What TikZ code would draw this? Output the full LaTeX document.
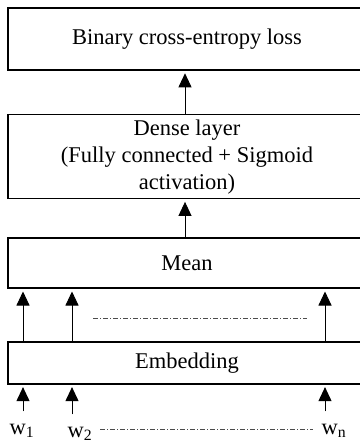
\documentclass[tikz,border=0pt]{standalone}
\usepackage{fontspec}
\setmainfont{Liberation Serif}
\usetikzlibrary{positioning,arrows.meta}

\tikzset{
  layer/.style={draw, line width=1.6pt, minimum width=358pt, align=center, inner sep=0pt},
  up/.style={-{Triangle[length=14pt,width=13pt]}, line width=0.9pt, shorten >=2.5pt},
  dotline/.style={dash pattern=on 5pt off 2pt on 1pt off 2pt, line width=0.6pt, black!70}
}

\begin{document}
\begin{tikzpicture}[x=1pt, y=-1pt, font=\fontsize{22.5}{27}\selectfont]
    \useasboundingbox (0,0) rectangle (359,443);

    \node[layer, minimum height=62pt] (loss) at (187,39) {Binary cross-entropy loss};
    \node[layer, minimum height=84pt, below = 43pt of loss] (dense) {Dense layer\\(Fully connected + Sigmoid\\activation)};
    \node[layer, minimum height=50pt, below = 38pt of dense] (mean) {Mean};
    \node[layer, minimum height=42pt, below = 52pt of mean] (emb) {Embedding};

    \node[anchor=base, inner sep=0pt] (w1) at (22,434) {w\textsubscript{1}};
    \node[anchor=base, inner sep=0pt] (w2) at (80,437) {w\textsubscript{2}};
    \node[anchor=base, inner sep=0pt] (wn) at (334,434) {w\textsubscript{n}};

    \coordinate (c0) at (185,0);
    \coordinate (c1) at (23,0);
    \coordinate (c2) at (72,0);
    \coordinate (cn) at (325,0);

    \draw[up] (dense.north -| c0) -- (loss.south -| c0);
    \draw[up] (mean.north -| c0) -- (dense.south -| c0);

    \draw[up] (emb.north -| c1) -- (mean.south -| c1);
    \draw[up] (emb.north -| c2) -- (mean.south -| c2);
    \draw[up] (emb.north -| cn) -- (mean.south -| cn);

    \draw[up, shorten <=12pt] (w1.north -| c1) -- (emb.south -| c1);
    \draw[up, shorten <=12pt] (w2.north -| c2) -- (emb.south -| c2);
    \draw[up, shorten <=12pt] (wn.north -| cn) -- (emb.south -| cn);

    \draw[dotline] (93,318) -- (307,318);
    \draw[dotline] (100,429) -- (313,429);
\end{tikzpicture}
\end{document}
